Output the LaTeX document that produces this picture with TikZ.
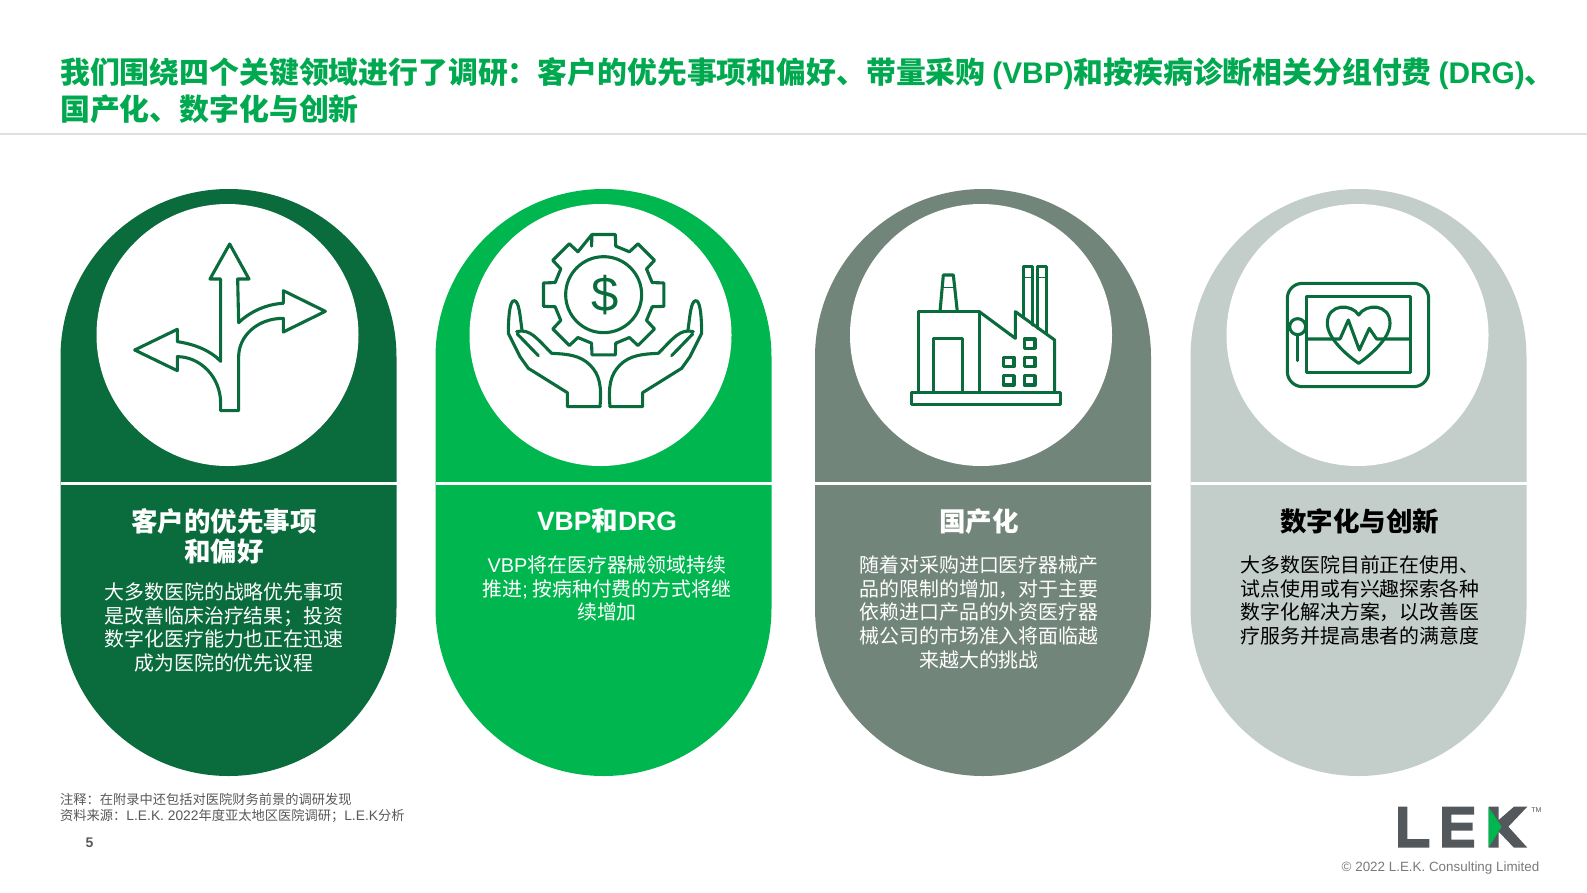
\documentclass[tikz,border=0pt]{standalone}
\usepackage{fontspec}
\setmainfont{Noto Sans CJK SC}
\newfontfamily\latf{Liberation Sans}
\newcommand{\lat}[1]{{\latf #1}}
\newcommand{\latb}[1]{{\latf\fontsize{13.8}{16.2}\selectfont #1}}
\definecolor{cdark}{HTML}{0A6B3C}
\definecolor{cbright}{HTML}{00B74F}
\definecolor{cgrey}{HTML}{72857B}
\definecolor{clight}{HTML}{C3CECB}
\definecolor{ctitle}{HTML}{00A94F}
\definecolor{ctext}{HTML}{595959}
\definecolor{clogo}{HTML}{53585C}
\tikzset{
  icon/.style={draw=cdark,line width=3.1pt,line join=round,line cap=round},
  hd/.style={font=\fontsize{26.5}{30.4}\selectfont\bfseries,align=center,inner sep=0pt,anchor=center},
  bd/.style={font=\fontsize{19.9}{23.7}\selectfont,align=center,inner sep=0pt,anchor=north},
  foot/.style={font=\fontsize{13.25}{16.2}\selectfont,text=ctext,align=left,inner sep=0pt,anchor=north west},
}
\newcommand{\card}[4]{% x-left, colour, name, circle centre x
  \fill[#2] (#1,357) arc[start angle=180,end angle=360,radius=168] -- (#1+336,608) arc[start angle=0,end angle=180,radius=168] -- cycle;
  \fill[white] (#1,481.5) rectangle (#1+336,485);
  \node[circle,fill=white,minimum size=262pt,inner sep=0pt] (#3) at (#4,335) {};
}
\newcommand{\lekhand}{%
  \draw[icon] (360,590) -- (262,590) -- (262,548) -- (145,475) -- (120,440) -- (85,370)
     .. controls (85,330) and (88,272) .. (102,272) .. controls (118,272) and (120,320) .. (126,360);
  \draw[icon] (110,365) .. controls (150,355) and (170,385) .. (215,430) .. controls (260,432) and (300,435) .. (330,465) .. controls (360,495) and (365,530) .. (360,590);
  \draw[icon] (112,372) -- (175,437);
}
\begin{document}
\begin{tikzpicture}[x=1pt,y=-1pt]
\useasboundingbox (0,0) rectangle (1587,892);
\fill[white] (0,0) rectangle (1587,892);
% title
\node[inner sep=0pt,anchor=west,text=ctitle,font=\fontsize{29.85}{36}\selectfont\bfseries] (t1) at (60,74) {我们围绕四个关键领域进行了调研：客户的优先事项和偏好、带量采购 \lat{(VBP)}和按疾病诊断相关分组付费 \lat{(DRG)}、};
\node[inner sep=0pt,anchor=west,text=ctitle,font=\fontsize{29.85}{36}\selectfont\bfseries] (t2) at (60,109.5) {国产化、数字化与创新};
\draw[draw=black!12,line width=1.5pt] (0,134) -- (1587,134);
% cards
\card{60.5}{cdark}{c1}{227.5}
\card{435.5}{cbright}{c2}{600.5}
\card{815}{cgrey}{c3}{981}
\card{1190.5}{clight}{c4}{1357.5}
% card text
\node[hd,text=white] (h1) at (224,536.5) {客户的优先事项\\和偏好};
\node[bd,text=white] (b1) at (224,582.5) {大多数医院的战略优先事项\\是改善临床治疗结果；投资\\数字化医疗能力也正在迅速\\成为医院的优先议程};
\node[hd,text=white] (h2) at (607,520.5) {\lat{VBP}和\lat{DRG}};
\node[bd,text=white] (b2) at (607,555.5) {\lat{VBP}将在医疗器械领域持续\\推进\lat{;} 按病种付费的方式将继\\续增加};
\node[hd,text=white] (h3) at (979,521.5) {国产化};
\node[bd,text=white] (b3) at (979,555.5) {随着对采购进口医疗器械产\\品的限制的增加，对于主要\\依赖进口产品的外资医疗器\\械公司的市场准入将面临越\\来越大的挑战};
\node[hd,text=black] (h4) at (1359.5,521) {数字化与创新};
\node[bd,text=black] (b4) at (1360,555.5) {大多数医院目前正在使用、\\试点使用或有兴趣探索各种\\数字化解决方案，以改善医\\疗服务并提高患者的满意度};
% icon 1
\begin{scope}[shift={(100,200)},x=0.3333pt,y=-0.3333pt]
\draw[icon] (389,132) -- (447,237) -- (413,237) -- (416,368) .. controls (450,335) and (500,312) .. (550,310) -- (550,272) -- (676,334) -- (550,396) -- (550,355)
  .. controls (470,355) and (416,410) .. (416,470) -- (416,632) -- (362,632) -- (362,610) .. controls (362,530) and (300,470) .. (232,470) -- (232,512) -- (104,450) -- (232,388) -- (232,425)
  .. controls (280,432) and (330,450) .. (362,484) -- (362,237) -- (330,237) -- cycle;
\end{scope}
% icon 2
\begin{scope}[shift={(480,210)},x=0.3333pt,y=-0.3333pt]
\draw[icon] ([shift={(371,254)}]-101:184)
  \foreach \a in {-90,-45,0,45,90,135,180,225} {
    -- ([shift={(371,254)}]\a-14:150) -- ([shift={(371,254)}]\a-11:184) -- ([shift={(371,254)}]\a+11:184) -- ([shift={(371,254)}]\a+14:150)
  } -- cycle;
\draw[icon] (371,254) circle[radius=114];
\node[inner sep=0pt,text=cdark,font=\latf\fontsize{49}{49}\selectfont] (dollar) at (375,254) {\$};
\lekhand
\begin{scope}[shift={(750,0)},xscale=-1]
\lekhand
\end{scope}
\end{scope}
% icon 3
\begin{scope}[shift={(890,250)},x=0.3333pt,y=-0.3333pt]
\draw[icon] (64,428) rectangle (512,464);
\draw[icon] (86,428) -- (86,185) -- (268,185) -- (268,428);
\draw[icon] (268,185) -- (376,265) -- (376,185) -- (494,270) -- (494,428);
\draw[icon] (130,428) -- (130,265) -- (218,265) -- (218,428);
\draw[icon] (150,185) -- (160,75) -- (190,75) -- (202,185);
\draw[icon,line width=1.6pt] (158,112) -- (192,112);
\draw[icon] (400,203) -- (400,50) -- (428,50) -- (428,225);
\draw[icon] (442,235) -- (442,50) -- (470,50) -- (470,250);
\draw[icon,line width=1.6pt] (400,82) -- (428,82) (442,82) -- (470,82);
\foreach \wx/\wy in {403/267,340/322,403/322,340/377,403/377}
  \draw[icon] (\wx,\wy) rectangle (\wx+32,\wy+28);
\end{scope}
% icon 4
\begin{scope}[shift={(1270,270)},x=0.3333pt,y=-0.3333pt]
\draw[icon] (52,85) arc[start angle=180,end angle=270,radius=45] -- (431,40) arc[start angle=270,end angle=360,radius=45] -- (476,305) arc[start angle=0,end angle=90,radius=45] -- (97,350) arc[start angle=90,end angle=180,radius=45] -- cycle;
\draw[icon] (110,80) rectangle (422,308);
\draw[icon,fill=white] (83,170) circle[radius=24];
\draw[icon] (83,194) -- (83,272);
\draw[icon] (266,135) .. controls (245,100) and (172,100) .. (172,160) .. controls (172,205) and (230,255) .. (266,280) .. controls (302,255) and (360,205) .. (360,160) .. controls (360,100) and (287,100) .. (266,135) -- cycle;
\draw[icon] (110,207) -- (210,207) -- (235,150) -- (268,240) -- (298,175) -- (320,207) -- (422,207);
\end{scope}
% footer
\node[foot] (f1) at (60,793) {注释：在附录中还包括对医院财务前景的调研发现\\资料来源：\latb{L.E.K. 2022}年度亚太地区医院调研；\latb{L.E.K}分析};
\node[inner sep=0pt,text=ctext,font=\latf\bfseries\fontsize{14}{14}\selectfont] (pn) at (89.5,843) {5};
% logo
\begin{scope}[shift={(1320,790)},x=0.3333pt,y=-0.3333pt]
\fill[clogo] (234,50) -- (262,50) -- (262,147) -- (328,147) -- (328,173) -- (234,173) -- cycle;
\fill[clogo] (366,50) -- (462,50) -- (462,74) -- (394,74) -- (394,98) -- (458,98) -- (458,122) -- (394,122) -- (394,149) -- (462,149) -- (462,173) -- (366,173) -- cycle;
\fill[clogo] (506,50) -- (536,50) -- (536,90) -- (582,50) -- (622,50) -- (565,110) -- (622,173) -- (582,173) -- (536,125) -- (536,173) -- (506,173) -- cycle;
\fill[cbright] (506,52) -- (545,110) -- (506,172) -- cycle;
\node[inner sep=0pt,text=clogo,font=\latf\fontsize{7}{7}\selectfont] (tm) at (649,59) {TM};
\end{scope}
\node[inner sep=0pt,text=ctext!80,anchor=east,font=\latf\fontsize{13.4}{13.4}\selectfont] (copy) at (1539.5,868) {© 2022 L.E.K. Consulting Limited};
\end{tikzpicture}
\end{document}
